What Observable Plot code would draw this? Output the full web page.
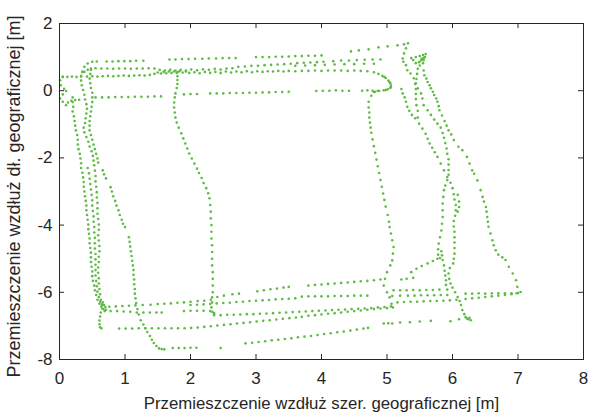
<!DOCTYPE html>
<html>
<head>
<meta charset="utf-8">
<script src="https://cdn.jsdelivr.net/npm/d3@7"></script>
<script src="https://cdn.jsdelivr.net/npm/@observablehq/plot@0.6"></script>
<style>
  html, body { margin: 0; padding: 0; background: #fff; }
  #chart svg { display: block; }
</style>
</head>
<body>
<div id="chart"></div>
<script>
// Recorded positions [x = latitude displacement, y = longitude displacement] in metres,
// grouped by the pass of the walked loop they belong to.

// Northern edge
const topOuter = [
  [0.35,0.56],[0.38,0.71],[0.43,0.81],[0.5,0.86],[0.57,0.87],
  [0.72,0.87],[0.81,0.87],[0.9,0.88],[0.99,0.88],[1.08,0.88],[1.17,0.89],[1.28,0.89],
  [1.68,0.93],[1.77,0.93],[1.87,0.94],[1.97,0.94],[2.07,0.95],[2.18,0.95],[2.28,0.96],[2.39,0.96],[2.49,0.97],[2.59,0.97],[2.69,0.97],
  [3.0,1.0],[3.1,1.0],[3.2,1.0],[3.3,1.01],[3.4,1.01],[3.5,1.02],[3.6,1.03],[3.7,1.03],[3.8,1.04],[3.9,1.04],[4.0,1.05],
  [4.45,1.17],[4.57,1.2],[4.72,1.23],[4.87,1.29],[5.01,1.32],[5.16,1.35],[5.26,1.38],[5.32,1.41]
];
const topMid = [
  [0.38,0.56],[0.43,0.62],[0.48,0.66],[0.55,0.67],[0.64,0.66],[0.73,0.66],[0.82,0.65],[0.91,0.66],[1.0,0.66],[1.09,0.65],[1.18,0.66],[1.27,0.66],[1.36,0.67],[1.45,0.66],
  [1.53,0.62],[1.61,0.6],[1.69,0.62],[1.77,0.6],[1.85,0.62],[1.93,0.6],[2.01,0.63],[2.1,0.61],[2.19,0.64],[2.28,0.62],[2.37,0.65],[2.46,0.63],[2.55,0.66],[2.64,0.67],
  [2.73,0.71],[2.83,0.72],[2.93,0.74],[3.03,0.74],[3.13,0.76],[3.23,0.77],[3.33,0.78],[3.43,0.79],[3.53,0.8],[3.63,0.82],[3.73,0.83],[3.83,0.84],[3.93,0.85],[4.03,0.86],
  [4.18,0.88],[4.3,0.9],[4.42,0.9],[4.54,0.91],[4.66,0.92],[4.78,0.93],[4.9,0.93]
];
const topExtra = [
  [3.6,0.74],[3.75,0.75],[3.9,0.76],[4.05,0.77],[4.2,0.78],[4.35,0.79],[4.5,0.79],[4.65,0.8],[4.8,0.8]
];
const topLow = [
  [0.05,0.41],[0.12,0.41],[0.19,0.42],[0.26,0.41],[0.33,0.42],[0.42,0.42],[0.5,0.43],[0.58,0.42],[0.66,0.43],[0.74,0.44],[0.82,0.43],[0.9,0.44],[0.98,0.45],[1.06,0.44],[1.14,0.45],[1.22,0.46],[1.3,0.45],[1.38,0.47],
  [1.45,0.5],[1.5,0.54],[1.55,0.51],[1.59,0.56],[1.63,0.52],[1.67,0.57],[1.71,0.53],[1.75,0.57],[1.79,0.53],[1.83,0.58],[1.88,0.54],[1.93,0.57],[1.98,0.53],
  [2.06,0.55],[2.14,0.52],[2.22,0.56],[2.3,0.53],[2.38,0.56],[2.46,0.53],[2.54,0.57],[2.62,0.54],[2.7,0.57],[2.78,0.55],[2.86,0.58],[2.94,0.55],[3.02,0.58],[3.1,0.56],[3.18,0.58],[3.26,0.57],[3.34,0.59],[3.42,0.57],[3.5,0.59],
  [3.6,0.58],[3.7,0.59],[3.8,0.59],[3.9,0.6],[4.0,0.59],[4.1,0.6],[4.2,0.6],[4.3,0.6],[4.4,0.59],[4.5,0.6],[4.6,0.59],[4.7,0.58],[4.8,0.55],
  [4.87,0.5],[4.93,0.44],[4.96,0.41],[4.98,0.38],[5.02,0.3],[5.04,0.26],[5.05,0.22],[5.06,0.15],[5.06,0.11],[5.05,0.08],[5.01,0.04],[4.98,0.02],[4.95,0.01],[4.88,-0.01],[4.82,-0.03]
];
const topZero = [
  [4.86,0.0],[4.78,0.0],[4.7,0.01],[4.62,0.0],
  [4.42,0.0],[4.32,0.0],[4.22,0.01],[4.12,0.0],[4.02,0.0],[3.92,-0.01],
  [3.5,-0.03],[3.4,-0.04],[3.3,-0.04],[3.2,-0.05],[3.1,-0.05],[3.0,-0.06],[2.9,-0.06],[2.8,-0.07],[2.7,-0.07],[2.6,-0.07],[2.5,-0.08],[2.4,-0.08],[2.3,-0.08],
  [2.1,-0.1],[2.0,-0.1],[1.9,-0.11],
  [1.55,-0.17],[1.45,-0.17],[1.35,-0.18],[1.25,-0.18],[1.15,-0.18],[1.05,-0.19],[0.95,-0.19],[0.85,-0.19],[0.75,-0.2],[0.65,-0.2],[0.55,-0.2]
];
const startLoop = [
  [0.05,0.41],[0.01,0.31],[0.02,0.16],[0.07,0.06],[0.1,-0.01],[0.05,-0.11],[0.01,-0.23],[0.05,-0.33],[0.1,-0.43],[0.13,-0.35],[0.18,-0.3],[0.24,-0.28],[0.3,-0.27]
];

// Western edge
const westA = [
  [0.2,-0.2],[0.2,-0.34],[0.21,-0.48],[0.2,-0.62],[0.22,-0.76],[0.23,-0.9],[0.24,-1.04],[0.25,-1.18],[0.27,-1.32],[0.28,-1.46],[0.28,-1.6],[0.29,-1.74],[0.31,-1.88],[0.32,-2.02],[0.33,-2.16],[0.33,-2.3],
  [0.35,-2.44],[0.36,-2.58],[0.37,-2.72],[0.37,-2.86],[0.38,-3.0],[0.39,-3.14],[0.4,-3.28],[0.41,-3.42],[0.41,-3.56],[0.42,-3.7],[0.43,-3.84],[0.44,-3.98],[0.44,-4.12],[0.45,-4.26],[0.46,-4.4],[0.46,-4.54],
  [0.47,-4.68],[0.48,-4.82],[0.48,-4.96],[0.48,-5.1],[0.49,-5.24],[0.5,-5.38],[0.5,-5.52],[0.51,-5.66],[0.53,-5.8],[0.54,-5.94],[0.56,-6.08],[0.58,-6.22],[0.61,-6.34],[0.64,-6.42]
];
const westB = [
  [0.35,0.56],[0.33,0.44],[0.33,0.3],[0.34,0.16],[0.36,0.02],[0.38,-0.12],[0.39,-0.26],[0.41,-0.4],[0.42,-0.54],[0.41,-0.68],[0.4,-0.82],[0.39,-0.96],[0.37,-1.1],[0.38,-1.24],[0.41,-1.38],[0.44,-1.52],
  [0.46,-1.66],[0.49,-1.8],[0.51,-1.94],[0.52,-2.08],[0.53,-2.22],[0.54,-2.38],[0.55,-2.54],[0.55,-2.7],[0.56,-2.86],[0.57,-3.02],[0.57,-3.18],[0.58,-3.34],[0.58,-3.5],[0.58,-3.66],[0.59,-3.82],[0.6,-3.98],
  [0.6,-4.14],[0.59,-4.3],[0.6,-4.46],[0.61,-4.62],[0.61,-4.78],[0.6,-4.94],[0.6,-5.1],[0.59,-5.26],[0.59,-5.42],[0.6,-5.58],[0.6,-5.74],[0.61,-5.9],[0.62,-6.06],[0.63,-6.22],[0.65,-6.36]
];
const westC = [
  [0.48,0.62],[0.47,0.5],[0.46,0.36],[0.47,0.22],[0.48,0.08],[0.5,-0.06],[0.5,-0.2],[0.5,-0.34],[0.49,-0.48],[0.48,-0.62],[0.47,-0.76],[0.46,-0.9],[0.46,-1.04],[0.46,-1.18],[0.48,-1.32],[0.5,-1.46],
  [0.52,-1.6],[0.54,-1.74],[0.56,-1.88],[0.58,-2.02],[0.59,-2.14],
  [0.66,-2.37],[0.68,-2.49],[0.71,-2.61],
  [0.78,-2.87],[0.8,-3.0],[0.82,-3.14],[0.85,-3.28],[0.87,-3.42],[0.9,-3.56],[0.92,-3.7],[0.95,-3.84],[0.97,-3.96],[1.0,-4.06],
  [1.06,-4.36],[1.07,-4.5],[1.08,-4.64],[1.09,-4.78],[1.1,-4.92],[1.11,-5.06],[1.12,-5.2],[1.13,-5.34],[1.13,-5.48],[1.14,-5.62],[1.14,-5.76],[1.15,-5.9],[1.15,-6.04],[1.16,-6.18],[1.17,-6.32],
  [1.19,-6.5],[1.21,-6.66],[1.24,-6.83],[1.28,-6.96],[1.31,-7.07],[1.34,-7.18],[1.38,-7.3],[1.41,-7.41],[1.44,-7.51],[1.48,-7.6],[1.52,-7.67],[1.56,-7.69],[1.6,-7.7]
];
const westD = [
  [0.43,-2.3],[0.45,-2.46],[0.46,-2.62],[0.47,-2.78],[0.48,-2.94],[0.49,-3.1],[0.5,-3.26],[0.5,-3.42],[0.51,-3.58],[0.52,-3.74],[0.52,-3.9],[0.53,-4.06],[0.53,-4.22],[0.54,-4.38],[0.54,-4.54],[0.54,-4.7],
  [0.55,-4.86],[0.55,-5.02],[0.55,-5.18],[0.55,-5.34],[0.55,-5.5],[0.56,-5.66],[0.57,-5.82],[0.58,-5.98],[0.6,-6.14],[0.62,-6.28]
];
const westCorner = [
  [0.66,-6.3],[0.68,-6.38],[0.7,-6.44],[0.67,-6.5],[0.71,-6.52],[0.65,-6.48],[0.69,-6.56],[0.63,-6.6],[0.62,-6.72],[0.61,-6.84],[0.61,-6.95],[0.62,-7.04],[0.64,-7.07]
];

// Inner north–south crossings
const innerWest = [
  [1.8,0.55],[1.8,0.43],[1.8,0.32],[1.8,0.2],[1.79,0.08],[1.77,-0.08],[1.76,-0.2],[1.75,-0.35],[1.75,-0.5],[1.76,-0.65],[1.77,-0.8],[1.79,-0.95],[1.82,-1.1],[1.86,-1.27],[1.89,-1.42],[1.92,-1.57],
  [1.95,-1.72],[1.98,-1.87],[2.02,-2.02],[2.06,-2.17],[2.1,-2.32],[2.13,-2.45],[2.17,-2.6],[2.2,-2.75],[2.24,-2.9],[2.27,-3.05],[2.29,-3.2],[2.3,-3.4],[2.31,-3.6],[2.31,-3.8],[2.32,-4.0],[2.32,-4.2],
  [2.32,-4.4],[2.33,-4.6],[2.33,-4.8],[2.33,-5.0],[2.33,-5.2],[2.34,-5.4],[2.34,-5.6],[2.34,-5.8],[2.34,-6.0],[2.33,-6.15],[2.33,-6.3],[2.32,-6.45],[2.33,-6.58],[2.36,-6.62]
];
const innerEast = [
  [4.8,-0.04],[4.76,-0.15],[4.72,-0.33],[4.72,-0.5],[4.73,-0.65],[4.73,-0.8],[4.74,-0.95],[4.75,-1.1],[4.76,-1.25],[4.78,-1.45],[4.8,-1.65],[4.82,-1.85],[4.84,-2.05],[4.86,-2.25],[4.88,-2.45],[4.9,-2.66],
  [4.92,-2.86],[4.94,-3.06],[4.96,-3.25],[4.98,-3.45],[5.01,-3.7],[5.03,-3.9],[5.04,-4.06],[5.06,-4.25],[5.08,-4.45],[5.1,-4.65],[5.09,-4.85],[5.08,-5.05],[5.05,-5.2],[5.0,-5.4],[4.97,-5.6],[4.95,-5.8],
  [5.0,-6.0],[5.04,-6.15],[5.07,-6.34],[5.09,-6.45]
];

// Eastern edge
const eastA = [
  [5.29,1.26],[5.26,1.11],[5.24,0.96],[5.25,0.86],[5.29,0.76],[5.31,0.61],[5.36,0.51],[5.41,0.37],[5.44,0.22],[5.47,0.07],[5.52,-0.08],[5.54,-0.23],[5.56,-0.43],[5.62,-0.58],[5.67,-0.72],[5.72,-0.86],
  [5.77,-0.98],[5.82,-1.1],[5.85,-1.26],[5.87,-1.4],[5.89,-1.56],[5.91,-1.72],[5.92,-1.88],[5.94,-2.04],[5.94,-2.2],[5.94,-2.36],[5.94,-2.5],[5.92,-2.66],[5.89,-2.82],[5.87,-2.96],[5.86,-3.16],[5.85,-3.36],
  [5.85,-3.56],[5.85,-3.76],[5.84,-3.96],[5.83,-4.16],[5.81,-4.36],[5.79,-4.55],[5.78,-4.72],[5.78,-4.88],[5.81,-4.98],[5.84,-4.9],[5.83,-4.78],[5.85,-5.04],[5.87,-5.2],[5.88,-5.36],[5.89,-5.5],[5.9,-5.64],
  [5.9,-5.78],[5.92,-5.92]
];
const eastB = [
  [5.47,0.65],[5.46,0.5],[5.45,0.35],[5.43,0.2],[5.44,0.05],[5.44,-0.1],[5.44,-0.25],[5.45,-0.43],[5.47,-0.6],[5.47,-0.8],[5.49,-0.98],[5.54,-1.13],[5.59,-1.28],[5.62,-1.43],[5.65,-1.57],[5.69,-1.7],
  [5.73,-1.83],[5.77,-1.97],[5.82,-2.17],[5.87,-2.37],[5.92,-2.57],[5.97,-2.74],[6.0,-2.9],[6.02,-3.08],[6.03,-3.24],[6.05,-3.4],[6.05,-3.56],[6.04,-3.72],[6.02,-3.88],[6.02,-4.04],[6.03,-4.2],[6.03,-4.36],
  [6.03,-4.52],[6.03,-4.68],[6.03,-4.85],[6.02,-5.0],[6.01,-5.14],[5.96,-5.28],[5.94,-5.44],[5.95,-5.6],[5.97,-5.74],[6.0,-5.86],[6.04,-6.0],[6.08,-6.14],[6.11,-6.26],[6.13,-6.38],[6.15,-6.53],[6.18,-6.65],
  [6.2,-6.74],[6.24,-6.8],[6.28,-6.83],[6.22,-6.78],[6.26,-6.76]
];
const eastC = [
  [5.22,0.05],[5.24,-0.08],[5.27,-0.2],[5.29,-0.33],[5.31,-0.48],[5.34,-0.6],[5.38,-0.72],[5.43,-0.82]
];
const eastD = [
  [6.08,-3.1],[6.1,-3.3],[6.1,-3.46],[6.08,-3.6]
];
const eastOuter = [
  [5.56,0.6],[5.57,0.46],[5.6,0.36],[5.62,0.26],[5.65,0.16],[5.67,0.07],[5.7,-0.03],[5.72,-0.13],[5.75,-0.23],[5.77,-0.33],[5.79,-0.46],[5.8,-0.58],[5.84,-0.74],[5.88,-0.9],[5.91,-1.04],[5.94,-1.18],
  [5.98,-1.3],[6.02,-1.47],[6.09,-1.67],[6.15,-1.77],[6.22,-1.97],[6.26,-2.17],[6.3,-2.37],[6.33,-2.47],[6.38,-2.67],[6.43,-2.96],[6.46,-3.16],[6.48,-3.3],[6.51,-3.46],[6.52,-3.6],[6.53,-3.76],[6.54,-3.9],
  [6.55,-4.05],[6.58,-4.25],[6.61,-4.45],[6.63,-4.6],[6.66,-4.75],[6.7,-4.88],[6.76,-4.96],[6.81,-5.04],[6.86,-5.24],[6.92,-5.44],[6.97,-5.64],[6.99,-5.84],[7.04,-5.99]
];
const eastTurn = [
  [5.37,0.97],[5.44,1.0],[5.5,1.03],[5.55,1.06],[5.59,1.09],[5.58,1.0],[5.56,0.91],[5.55,0.82],[5.49,0.85],[5.52,0.9],[5.53,0.95],[5.55,0.95],[5.56,0.97],[5.5,0.75],[5.4,0.91],[5.44,0.82]
];
const eastLink = [
  [5.22,-5.62],[5.3,-5.6],[5.4,-5.57],[5.37,-5.4],[5.45,-5.3],[5.53,-5.22],[5.62,-5.14],[5.7,-5.07],[5.77,-5.0]
];

// Southern edge
const southA = [
  [0.76,-6.43],[0.86,-6.42],[0.96,-6.41],[1.06,-6.4],[1.16,-6.39],[1.27,-6.38],[1.39,-6.37],[1.5,-6.35],[1.6,-6.34],[1.7,-6.33],[1.8,-6.31],[1.9,-6.3],[2.0,-6.28],[2.11,-6.26],[2.21,-6.25],[2.31,-6.22],
  [2.41,-6.14],[2.51,-6.1],[2.64,-6.06],[2.74,-6.04],
  [3.02,-5.97],[3.12,-5.94],[3.22,-5.91],[3.32,-5.89],[3.42,-5.86],[3.5,-5.84],
  [3.8,-5.8],[3.9,-5.78],[4.0,-5.77],[4.1,-5.75],[4.2,-5.74],[4.3,-5.72],[4.4,-5.71],[4.5,-5.69],[4.6,-5.67],[4.7,-5.66],[4.8,-5.64],[4.9,-5.62]
];
const southAEnd = [
  [5.1,-5.94],[5.2,-5.94],[5.3,-5.94],[5.4,-5.93],[5.5,-5.94],[5.6,-5.93],[5.7,-5.93],[5.8,-5.92]
];
const southB = [
  [2.0,-6.38],[2.1,-6.37],[2.2,-6.36],[2.3,-6.35],[2.4,-6.33],[2.5,-6.32],[2.6,-6.31],[2.7,-6.29],[2.8,-6.28],[2.9,-6.26],[3.0,-6.25],[3.1,-6.24],[3.2,-6.23],[3.3,-6.21],[3.4,-6.2],[3.5,-6.19],[3.6,-6.18],
  [3.7,-6.13],[3.8,-6.12],[3.9,-6.12],[4.0,-6.12],[4.1,-6.12],[4.2,-6.11],[4.3,-6.11],[4.4,-6.11],[4.5,-6.1],[4.6,-6.1],[4.7,-6.1],
  [5.08,-6.11],[5.2,-6.1],[5.32,-6.1],[5.42,-6.1],[5.52,-6.09],[5.62,-6.09],[5.72,-6.09],[5.82,-6.08],[5.92,-6.08],
  [6.2,-6.04],[6.3,-6.04],[6.4,-6.03],[6.5,-6.04],[6.6,-6.03],[6.7,-6.03],[6.8,-6.03],[6.9,-6.03],[7.0,-6.02]
];
const southC = [
  [0.78,-6.56],[0.88,-6.56],[0.98,-6.57],[1.08,-6.58],[1.18,-6.6],[1.28,-6.6],[1.38,-6.6],[1.48,-6.6],[1.56,-6.6],
  [1.9,-6.56],[2.0,-6.55],[2.1,-6.55],[2.2,-6.55],[2.3,-6.56]
];
const southD = [
  [2.36,-6.68],[2.46,-6.68],[2.56,-6.67],[2.66,-6.67],[2.76,-6.66],[2.86,-6.65],[2.96,-6.65],[3.06,-6.64],[3.16,-6.63],[3.26,-6.62],[3.36,-6.61],[3.46,-6.6],[3.56,-6.59],[3.66,-6.58],[3.76,-6.57],[3.86,-6.56],
  [3.96,-6.55],[4.06,-6.54],[4.16,-6.53],[4.26,-6.52],[4.36,-6.51],[4.46,-6.5],[4.56,-6.49],[4.66,-6.48],[4.76,-6.47],[4.86,-6.45],[4.96,-6.44],[5.06,-6.42],
  [5.16,-6.3],[5.26,-6.29],[5.36,-6.28],[5.46,-6.28],[5.56,-6.27],[5.66,-6.26],[5.76,-6.26],[5.86,-6.25],[5.96,-6.24],[6.06,-6.22],[6.2,-6.2],[6.3,-6.18],[6.4,-6.16],[6.5,-6.14],[6.6,-6.12],[6.7,-6.1],
  [6.8,-6.08],[6.9,-6.06],[6.98,-6.03]
];
const southE = [
  [0.91,-7.08],[1.01,-7.08],[1.11,-7.08],[1.21,-7.07],[1.31,-7.07],[1.41,-7.07],[1.51,-7.07],[1.61,-7.07],[1.71,-7.07],[1.81,-7.07],[1.91,-7.07],[2.01,-7.06],[2.11,-7.05],[2.21,-7.03],[2.31,-7.01],[2.41,-6.99],
  [2.51,-6.97],[2.61,-6.95],[2.71,-6.93],[2.81,-6.91],[2.91,-6.89],[3.01,-6.87],[3.11,-6.85],[3.21,-6.83],[3.31,-6.81],[3.41,-6.79],[3.51,-6.77],[3.61,-6.75],[3.7,-6.73],[3.8,-6.7],[3.9,-6.68],[4.0,-6.66],
  [4.1,-6.64],[4.2,-6.62],[4.3,-6.6],[4.4,-6.58],[4.5,-6.56],[4.6,-6.54],[4.7,-6.52],[4.8,-6.5],[4.9,-6.48],[5.0,-6.47]
];
const southF = [
  [1.73,-7.66],[1.82,-7.66],[1.91,-7.66],[2.0,-7.65],[2.09,-7.65],[2.46,-7.66],
  [2.84,-7.52],[2.94,-7.5],[3.04,-7.48],[3.14,-7.46],[3.24,-7.43],[3.34,-7.41],[3.44,-7.39],[3.54,-7.37],[3.64,-7.34],[3.74,-7.32],[3.84,-7.3],[3.94,-7.27],[4.04,-7.24],[4.14,-7.22],[4.24,-7.19],[4.34,-7.17],
  [4.44,-7.14],[4.54,-7.11],[4.64,-7.08],[4.71,-7.06],
  [4.95,-6.93],[5.02,-6.92],[5.08,-6.93],[5.2,-6.9],[5.35,-6.89],[5.5,-6.87],[5.67,-6.85],[5.97,-6.86],[6.1,-6.8]
];

const passes = [
  topOuter, topMid, topExtra, topLow, topZero, startLoop,
  westA, westB, westC, westD, westCorner,
  innerWest, innerEast,
  eastA, eastB, eastC, eastD, eastOuter, eastTurn, eastLink,
  southA, southAEnd, southB, southC, southD, southE, southF
];

const xTicks = [0, 1, 2, 3, 4, 5, 6, 7, 8];
const yTicks = [2, 0, -2, -4, -6, -8];
const xLabel = "Przemieszczenie wzdłuż szer. geograficznej [m]";
const yLabel = "Przemieszczenie wzdłuż dł. geograficznej [m]";

const points = passes.flatMap(p => p.map(([x, y]) => ({x, y})));

const W = 590, H = 413;
const mL = 59, mR = 7, mT = 23, mB = 54;
const innerW = W - mL - mR, innerH = H - mT - mB;
const ink = "#262626";
const tickLen = 5;

const chart = Plot.plot({
  width: W,
  height: H,
  marginLeft: mL,
  marginRight: mR,
  marginTop: mT,
  marginBottom: mB,
  style: {fontFamily: "'Liberation Sans', Arial, sans-serif", fontSize: "17px", color: ink, background: "#fff", overflow: "visible"},
  x: {domain: [0, 8]},
  y: {domain: [-8, 2]},
  marks: [
    Plot.dot(points, {x: "x", y: "y", r: 1.3, fill: "#5fba46", stroke: null}),
    Plot.frame({stroke: ink, strokeWidth: 1}),
    // inward ticks on all four sides
    Plot.tickX(xTicks, {x: d => d, insetTop: innerH - tickLen, stroke: ink}),
    Plot.tickX(xTicks, {x: d => d, insetBottom: innerH - tickLen, stroke: ink}),
    Plot.tickY(yTicks, {y: d => d, insetRight: innerW - tickLen, stroke: ink}),
    Plot.tickY(yTicks, {y: d => d, insetLeft: innerW - tickLen, stroke: ink}),
    Plot.axisX(xTicks, {tickSize: 0, tickPadding: 12, label: null, tickFormat: d => String(d), fontSize: 17}),
    Plot.axisY(yTicks, {tickSize: 0, tickPadding: 7, label: null, tickFormat: d => String(d), fontSize: 17}),
    Plot.text([xLabel], {frameAnchor: "bottom", textAnchor: "middle", lineAnchor: "middle", dy: 44, fontSize: 16.8, fill: ink}),
    Plot.text([yLabel], {frameAnchor: "left", textAnchor: "middle", lineAnchor: "middle", rotate: -90, dx: -45, dy: 5, fontSize: 18, fill: ink})
  ]
});

document.getElementById("chart").appendChild(chart);
</script>
</body>
</html>
